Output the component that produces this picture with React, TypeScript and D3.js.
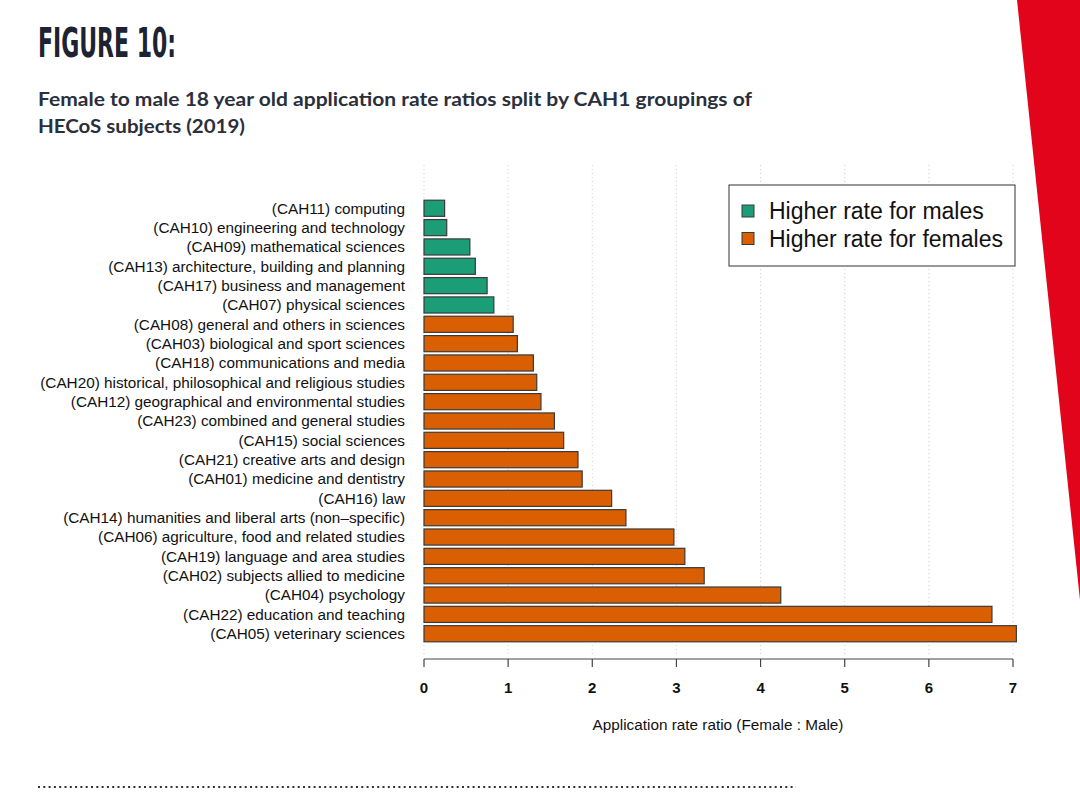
import React from "react";
import * as d3 from "d3";

const categories = [
  "(CAH11) computing",
  "(CAH10) engineering and technology",
  "(CAH09) mathematical sciences",
  "(CAH13) architecture, building and planning",
  "(CAH17) business and management",
  "(CAH07) physical sciences",
  "(CAH08) general and others in sciences",
  "(CAH03) biological and sport sciences",
  "(CAH18) communications and media",
  "(CAH20) historical, philosophical and religious studies",
  "(CAH12) geographical and environmental studies",
  "(CAH23) combined and general studies",
  "(CAH15) social sciences",
  "(CAH21) creative arts and design",
  "(CAH01) medicine and dentistry",
  "(CAH16) law",
  "(CAH14) humanities and liberal arts (non\u2013specific)",
  "(CAH06) agriculture, food and related studies",
  "(CAH19) language and area studies",
  "(CAH02) subjects allied to medicine",
  "(CAH04) psychology",
  "(CAH22) education and teaching",
  "(CAH05) veterinary sciences",
];

const ratios = [
  0.245, 0.27, 0.545, 0.61, 0.75, 0.83, 1.06, 1.11, 1.3, 1.34, 1.39, 1.55,
  1.66, 1.83, 1.88, 2.23, 2.4, 2.97, 3.1, 3.33, 4.24, 6.75, 7.04,
];

const xTicks = [0, 1, 2, 3, 4, 5, 6, 7];
const legendLabels = ["Higher rate for males", "Higher rate for females"];
const seriesColors = ["#1b9e77", "#d95f02"];

const titleText = "FIGURE 10:";
const subtitleLines = [
  "Female to male 18 year old application rate ratios split by CAH1 groupings of",
  "HECoS subjects (2019)",
];
const xAxisTitle = "Application rate ratio (Female : Male)";

export default function App() {
  const x = d3.scaleLinear().domain([0, 7]).range([424, 1013]);
  const y = d3
    .scaleBand<string>()
    .domain(categories)
    .range([198.6, 643.4])
    .paddingInner(0.1667)
    .paddingOuter(0.0833);

  const axisY = 659;
  const labelFont = "'Liberation Sans', Arial, Helvetica, sans-serif";

  return (
    <svg
      width={1080}
      height={792}
      style={{ position: "absolute", left: 0, top: 0, background: "#fff" }}
    >
      <rect x={0} y={0} width={1080} height={792} fill="#fff" />
      {/* red decorative wedge */}
      <polygon points="1017,0 1080,0 1080,600" fill="#e2041b" />

      {/* title */}
      <text
        x={38}
        y={57}
        fontFamily="'Liberation Sans Narrow', 'DejaVu Sans Condensed', sans-serif"
        fontWeight={700}
        fontSize={41}
        fill="#1d2331"
        textLength={138}
        lengthAdjust="spacingAndGlyphs"
      >
        {titleText}
      </text>
      {subtitleLines.map((t, i) => (
        <text
          key={i}
          x={38}
          y={106 + i * 27}
          fontFamily="Lato, 'Open Sans', sans-serif"
          fontWeight={700}
          fontSize={18.5}
          fill="#2a2f3b"
          textLength={i === 0 ? 714 : 207}
          lengthAdjust="spacingAndGlyphs"
        >
          {t}
        </text>
      ))}

      {/* grid lines */}
      {xTicks.map((t) => (
        <line
          key={"g" + t}
          x1={x(t)}
          x2={x(t)}
          y1={165}
          y2={axisY - 3}
          stroke="#cfcfcf"
          strokeWidth={1}
          strokeDasharray="1 3"
        />
      ))}

      {/* bars */}
      {categories.map((c, i) => (
        <rect
          key={c}
          x={x(0)}
          y={y(c)}
          width={x(ratios[i]) - x(0)}
          height={y.bandwidth()}
          fill={ratios[i] < 1 ? seriesColors[0] : seriesColors[1]}
          stroke="#3a3a3a"
          strokeWidth={1.2}
        />
      ))}

      {/* category labels */}
      {categories.map((c) => (
        <text
          key={"l" + c}
          x={405}
          y={(y(c) as number) + y.bandwidth() / 2}
          dy="0.35em"
          textAnchor="end"
          fontFamily={labelFont}
          fontSize={15.3}
          fill="#111"
        >
          {c}
        </text>
      ))}

      {/* x axis */}
      <line x1={x(0)} x2={x(7)} y1={axisY} y2={axisY} stroke="#444" strokeWidth={1.2} />
      {xTicks.map((t) => (
        <g key={"t" + t}>
          <line x1={x(t)} x2={x(t)} y1={axisY} y2={axisY + 8} stroke="#444" strokeWidth={1.2} />
          <text
            x={x(t)}
            y={688}
            dy="0.35em"
            textAnchor="middle"
            fontFamily={labelFont}
            fontSize={15}
            fontWeight={700}
            fill="#111"
          >
            {t}
          </text>
        </g>
      ))}
      <text
        x={718}
        y={725}
        dy="0.35em"
        textAnchor="middle"
        fontFamily={labelFont}
        fontSize={15.3}
        fill="#111"
      >
        {xAxisTitle}
      </text>

      {/* legend */}
      <rect x={729} y={185} width={286} height={81} fill="#fff" stroke="#333" strokeWidth={1} />
      {legendLabels.map((l, i) => (
        <g key={l}>
          <rect
            x={742}
            y={205 + i * 27.5}
            width={12}
            height={12}
            fill={seriesColors[i]}
            stroke="#3a3a3a"
            strokeWidth={1}
          />
          <text
            x={769}
            y={211 + i * 27.5}
            dy="0.35em"
            fontFamily={labelFont}
            fontSize={23}
            fill="#111"
          >
            {l}
          </text>
        </g>
      ))}

      {/* bottom dotted rule */}
      <line
        x1={38}
        x2={796}
        y1={787}
        y2={787}
        stroke="#333"
        strokeWidth={2}
        strokeDasharray="2 3.3"
      />
    </svg>
  );
}
